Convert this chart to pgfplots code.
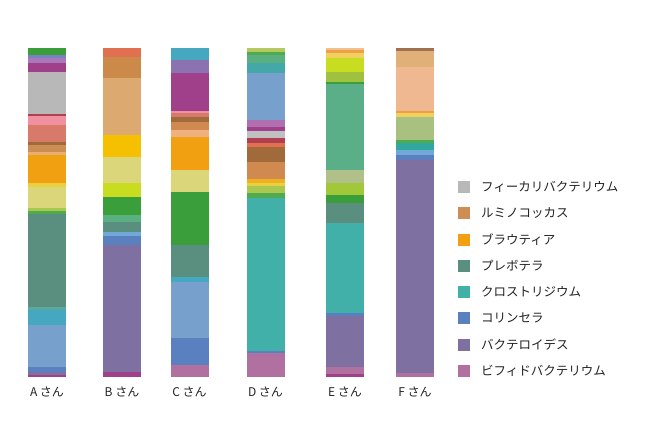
\documentclass[border=0pt]{standalone}
\usepackage{fontspec}
\setmainfont{Noto Sans CJK JP}
\usepackage{pgfplots}
\pgfplotsset{compat=1.18}
% legend colours
\definecolor{fae}{HTML}{B8B8B8}
\definecolor{rum}{HTML}{CC8E55}
\definecolor{bla}{HTML}{F0A010}
\definecolor{pre}{HTML}{5A8F80}
\definecolor{clo}{HTML}{40B0A8}
\definecolor{col}{HTML}{5A80C0}
\definecolor{bac}{HTML}{7E70A0}
\definecolor{bif}{HTML}{B070A0}
% other taxa
\definecolor{mag}{HTML}{A0408A}
\definecolor{lbl}{HTML}{78A0CC}
\definecolor{cya}{HTML}{45A8C0}
\definecolor{ltt}{HTML}{5AA8A0}
\definecolor{grn}{HTML}{3A9E3A}
\definecolor{gr2}{HTML}{50AA50}
\definecolor{ygr}{HTML}{A8C850}
\definecolor{lye}{HTML}{DCD67A}
\definecolor{yel}{HTML}{E8D040}
\definecolor{lta}{HTML}{E8B070}
\definecolor{brn}{HTML}{A06A3A}
\definecolor{sal}{HTML}{D87A6A}
\definecolor{pnk}{HTML}{F090A0}
\definecolor{dkr}{HTML}{B04050}
\definecolor{lpu}{HTML}{A878B8}
\definecolor{bpu}{HTML}{7A80C0}
\definecolor{cor}{HTML}{E07050}
\definecolor{lt2}{HTML}{DCAA70}
\definecolor{tab}{HTML}{CC8A4A}
\definecolor{gld}{HTML}{F5C000}
\definecolor{lgr}{HTML}{5AB080}
\definecolor{yg2}{HTML}{C8DC20}
\definecolor{pea}{HTML}{F0B080}
\definecolor{pe2}{HTML}{F0B890}
\definecolor{lb2}{HTML}{70A8D8}
\definecolor{yg3}{HTML}{A0C838}
\definecolor{sag}{HTML}{B0C088}
\definecolor{sa2}{HTML}{A8C080}
\definecolor{grt}{HTML}{5AAF88}
\definecolor{oli}{HTML}{A0C040}
\definecolor{ye2}{HTML}{F0D060}
\definecolor{or2}{HTML}{F0A040}
\definecolor{pe3}{HTML}{F0C090}
\definecolor{ta3}{HTML}{E0B078}
\definecolor{br2}{HTML}{A07050}
\definecolor{te2}{HTML}{30A8A0}
\definecolor{ybg}{HTML}{B6C860}
\definecolor{lp2}{HTML}{8A73B0}
\definecolor{gl2}{HTML}{F0B020}
\definecolor{ta4}{HTML}{D08A50}
\definecolor{gry}{HTML}{C0C0C0}
\definecolor{mau}{HTML}{B070B0}
\definecolor{tea}{HTML}{45A8A8}
\definecolor{txt}{HTML}{222222}
% one segment of one bar (bottom to top), heights in pixels of the 329-pixel bar
\newcommand\sA[2]{\addplot[fill=#1,draw=none,forget plot] coordinates {(47,#2) (122,0) (189.5,0) (265.5,0) (345,0) (415,0)};}
\newcommand\sB[2]{\addplot[fill=#1,draw=none,forget plot] coordinates {(47,0) (122,#2) (189.5,0) (265.5,0) (345,0) (415,0)};}
\newcommand\sC[2]{\addplot[fill=#1,draw=none,forget plot] coordinates {(47,0) (122,0) (189.5,#2) (265.5,0) (345,0) (415,0)};}
\newcommand\sD[2]{\addplot[fill=#1,draw=none,forget plot] coordinates {(47,0) (122,0) (189.5,0) (265.5,#2) (345,0) (415,0)};}
\newcommand\sE[2]{\addplot[fill=#1,draw=none,forget plot] coordinates {(47,0) (122,0) (189.5,0) (265.5,0) (345,#2) (415,0)};}
\newcommand\sF[2]{\addplot[fill=#1,draw=none,forget plot] coordinates {(47,0) (122,0) (189.5,0) (265.5,0) (345,0) (415,#2)};}
\begin{document}
\begin{tikzpicture}
\path[use as bounding box] (0,0) rectangle (650bp,433bp);
\begin{axis}[
  at={(0,56bp)}, anchor=south west,
  scale only axis, width=650bp, height=329bp,
  xmin=0, xmax=650, ymin=0, ymax=329,
  ybar stacked, bar width=38,
  axis line style={draw=none},
  xtick={47,122,189.5,265.5,345,415},
  xticklabels={A さん,B さん,C さん,D さん,E さん,F さん},
  ytick=\empty, major tick length=0pt, xtick style={draw=none},
  x tick label style={font=\fontsize{12bp}{14bp}\selectfont, text=txt, inner sep=0pt, anchor=north, yshift=-10bp},
  clip=false,
  legend style={draw=none, fill=none, at={(axis cs:458,196)}, anchor=north west,
    inner sep=0pt, row sep=14.2bp, column sep=11bp,
    nodes={inner sep=0pt, anchor=west, text=txt},
    font=\fontsize{12.5bp}{15bp}\selectfont},
  legend cell align=left,
  legend image code/.code={\fill[#1,draw=none] (0bp,-6bp) rectangle (12bp,6bp);},
]
% A
\sA{mag}{2}\sA{bac}{3}\sA{col}{5}\sA{lbl}{42}\sA{cya}{15}\sA{ltt}{3}\sA{pre}{93}
\sA{gr2}{3}\sA{ygr}{3}\sA{lye}{21}\sA{yel}{4}\sA{bla}{28}\sA{lta}{3}\sA{rum}{7}
\sA{brn}{3}\sA{sal}{17}\sA{pnk}{9}\sA{dkr}{2}\sA{fae}{42}\sA{mag}{9}\sA{lpu}{5}
\sA{bpu}{3}\sA{grn}{7}
% B
\sB{mag}{5}\sB{bac}{127}\sB{col}{9}\sB{lb2}{4}\sB{pre}{10}\sB{lgr}{7}\sB{grn}{18}
\sB{yg2}{14}\sB{lye}{26}\sB{gld}{22}\sB{lt2}{57}\sB{tab}{21}\sB{cor}{9}
% C
\sC{bif}{12}\sC{col}{27}\sC{lbl}{56}\sC{cya}{5}\sC{pre}{32}\sC{grn}{53}\sC{lye}{22}
\sC{bla}{33}\sC{pea}{7}\sC{ta4}{8}\sC{brn}{5}\sC{sal}{4}\sC{pnk}{2}\sC{mag}{38}
\sC{lp2}{13}\sC{cya}{12}
% D
\sD{bif}{24}\sD{col}{2}\sD{clo}{153}\sD{gr2}{5}\sD{ygr}{7}\sD{yel}{3}\sD{gl2}{4}
\sD{ta4}{17}\sD{brn}{15}\sD{cor}{4}\sD{dkr}{5}\sD{gry}{7}\sD{mag}{4}\sD{mau}{7}
\sD{lbl}{47}\sD{tea}{10}\sD{lgr}{8}\sD{gr2}{3}\sD{ybg}{4}
% E
\sE{mag}{3}\sE{bif}{7}\sE{bac}{51}\sE{col}{3}\sE{clo}{90}\sE{pre}{20}\sE{grn}{8}
\sE{yg3}{12}\sE{sag}{13}\sE{grt}{86}\sE{grn}{2}\sE{oli}{10}\sE{yg2}{14}\sE{ye2}{5}
\sE{or2}{3}\sE{pe3}{2}
% F
\sF{bif}{4}\sF{bac}{213}\sF{col}{5}\sF{lb2}{5}\sF{te2}{7}\sF{gr2}{3}\sF{sa2}{23}
\sF{ye2}{4}\sF{or2}{2}\sF{pe2}{44}\sF{ta3}{16}\sF{br2}{3}
% legend
\addlegendimage{fill=fae}\addlegendentry{フィーカリバクテリウム}
\addlegendimage{fill=rum}\addlegendentry{ルミノコッカス}
\addlegendimage{fill=bla}\addlegendentry{ブラウティア}
\addlegendimage{fill=pre}\addlegendentry{プレボテラ}
\addlegendimage{fill=clo}\addlegendentry{クロストリジウム}
\addlegendimage{fill=col}\addlegendentry{コリンセラ}
\addlegendimage{fill=bac}\addlegendentry{バクテロイデス}
\addlegendimage{fill=bif}\addlegendentry{ビフィドバクテリウム}
\end{axis}
\end{tikzpicture}
\end{document}
